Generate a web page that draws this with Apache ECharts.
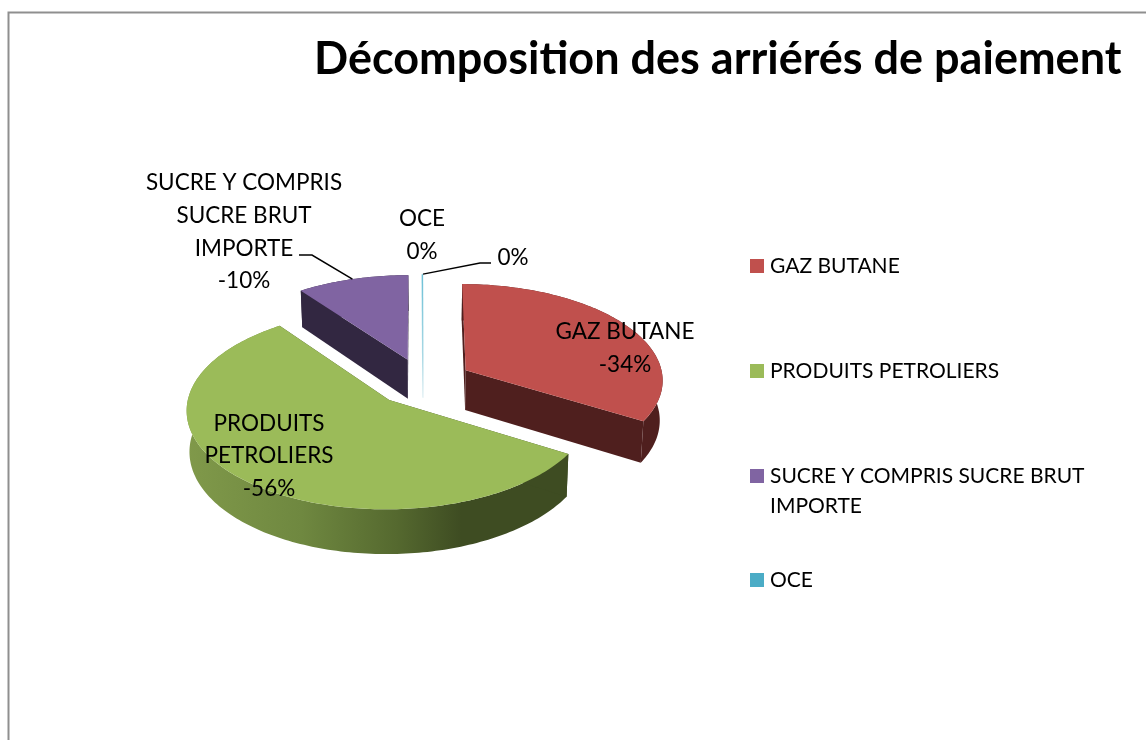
<!DOCTYPE html>
<html><head><meta charset="utf-8">
<style>html,body{margin:0;padding:0;background:#fff}#c{width:1146px;height:740px}</style>
<script src="https://cdn.jsdelivr.net/npm/echarts@6/dist/echarts.min.js"></script>
</head><body><div id="c"></div>
<script>
// ---- data ----
const titleText = 'Décomposition des arriérés de paiement';
const categories = ['GAZ BUTANE', 'PRODUITS PETROLIERS', 'SUCRE Y COMPRIS SUCRE BRUT IMPORTE', 'OCE', ''];
const shareValues = [-33.6, -56.1, -10.1, -0.05, 0];
const labelLines = [['GAZ BUTANE'], ['PRODUITS', 'PETROLIERS'], ['SUCRE Y COMPRIS', 'SUCRE BRUT', 'IMPORTE'], ['OCE'], []];
const legendLines = ['GAZ BUTANE', 'PRODUITS PETROLIERS', '\nSUCRE Y COMPRIS SUCRE BRUT\nIMPORTE', 'OCE'];

// ---- styling and layout ----
const topColors = ['#c0504d', '#9bbb59', '#8064a2', '#4bacc6', '#4bacc6'];
const wallColors = ['#4f1f1e', null, '#322741', null, null];
const labelCenters = [[625, 348], [269, 456], [244, 232], [422, 235], [513, 257.5]];
const leaderElbows = [null, null, [[299, 255], [312, 255]], null, [[491, 263], [480, 263]]];
const legendTops = [251, 356, 431, 565];
const font = 'Lato, "Open Sans", sans-serif';
const labelSize = 22.5, legendSize = 21, titleSize = 45;
const pie = { cx: 423, cy: 382, rx: 198, ry: 96, persp: 0.09, explode: 0.25, depth: 40, baseScale: 0.988 };

// ---- pie projection ----
const total = shareValues.reduce((s, v) => s + Math.abs(v), 0);
const starts = [];
shareValues.reduce((s, v, i) => { starts[i] = s; return s + Math.abs(v) / total * 2 * Math.PI; }, 0);

function project(x, y, base) {
  const w = 1 - pie.persp * y;
  const k = base ? pie.baseScale : 1;
  return [pie.cx + k * pie.rx * x / w, pie.cy + pie.ry * y / w + (base ? pie.depth / w : 0)];
}
function renderSlice(params, api) {
  const i = params.seriesIndex;
  const sweep = Math.abs(api.value(0)) / total * 2 * Math.PI;
  const a0 = starts[i], mid = a0 + sweep / 2;
  const ox = Math.sin(mid) * pie.explode, oy = -Math.cos(mid) * pie.explode;
  const arc = [];
  const steps = Math.max(2, Math.ceil(sweep / 0.02));
  for (let s = 0; s <= steps; s++) {
    const a = a0 + sweep * s / steps;
    arc.push([ox + Math.sin(a), oy - Math.cos(a)]);
  }
  const topArc = arc.map(p => project(p[0], p[1], false));
  const baseArc = arc.map(p => project(p[0], p[1], true));
  const apexT = project(ox, oy, false), apexB = project(ox, oy, true);
  const kids = [];
  if (sweep > 0.05) {
    const wall = wallColors[i] || new echarts.graphic.LinearGradient(0, 0, 1, 0, [
      { offset: 0, color: '#80994a' }, { offset: 0.3, color: '#6f8840' },
      { offset: 0.55, color: '#55692f' }, { offset: 0.72, color: '#3e4c22' }, { offset: 1, color: '#3e4c22' }]);
    const cutColor = wallColors[i] || '#3e4c22';
    kids.push({ type: 'polygon', shape: { points: topArc.concat(baseArc.slice().reverse()) }, style: { fill: wall } });
    kids.push({ type: 'polygon', shape: { points: [apexT, topArc[0], baseArc[0], apexB] }, style: { fill: cutColor } });
    const n = topArc.length - 1;
    kids.push({ type: 'polygon', shape: { points: [apexT, topArc[n], baseArc[n], apexB] }, style: { fill: cutColor } });
    kids.push({ type: 'polygon', shape: { points: [apexT].concat(topArc) }, style: { fill: topColors[i] } });
  } else if (sweep > 0) {
    kids.push({ type: 'line', shape: { x1: topArc[0][0], y1: topArc[0][1], x2: apexB[0], y2: apexB[1] },
      style: { lineWidth: 1.5, stroke: new echarts.graphic.LinearGradient(0, 0, 0, 1, [
        { offset: 0, color: '#6cc0d6' }, { offset: 0.65, color: '#a8d8e4' }, { offset: 1, color: '#e6f2f5' }]) } });
  }
  // leader line ends on the slice's outer edge
  if (leaderElbows[i]) {
    const tip = project(ox + Math.sin(mid), oy - Math.cos(mid), false);
    kids.push({ type: 'polyline', shape: { points: leaderElbows[i].concat([tip]) },
      style: { fill: 'none', stroke: '#000', lineWidth: 1.5 } });
  }
  const pct = Math.round(api.value(0)) + '%';
  kids.push({ type: 'text', z2: 50, style: {
    text: labelLines[i].concat([pct]).join('\n'), x: labelCenters[i][0], y: labelCenters[i][1],
    align: 'center', verticalAlign: 'middle', font: labelSize + 'px ' + font, lineHeight: 32.6, fill: '#000' } });
  return { type: 'group', children: kids };
}

const chart = echarts.init(document.getElementById('c'), null, { renderer: 'canvas' });
chart.setOption({
  animation: false,
  backgroundColor: '#fff',
  title: { text: titleText, left: 309, top: 32, textStyle: { fontFamily: font, fontWeight: 'bold', fontSize: titleSize, color: '#000' } },
  legend: legendLines.map((text, i) => ({
    data: [categories[i]], orient: 'vertical', left: 750, top: legendTops[i], padding: 0,
    icon: 'rect', itemWidth: 14, itemHeight: 14, itemGap: 0, selectedMode: false,
    formatter: () => text,
    textStyle: { fontFamily: font, fontSize: legendSize, color: '#000', lineHeight: 30, padding: [0, 0, 0, 1] }
  })),
  graphic: [{ type: 'polyline', silent: true, shape: { points: [[8.5, 740], [8.5, 12.5], [1146, 12.5]] },
    style: { fill: 'none', stroke: '#8f8f8f', lineWidth: 2 } }],
  series: categories.map((name, i) => ({
    type: 'custom', name: name || 'autre', coordinateSystem: 'none', renderItem: renderSlice,
    itemStyle: { color: topColors[i] }, data: [[shareValues[i]]], z: 2 + i, clip: false
  }))
});
</script></body></html>
